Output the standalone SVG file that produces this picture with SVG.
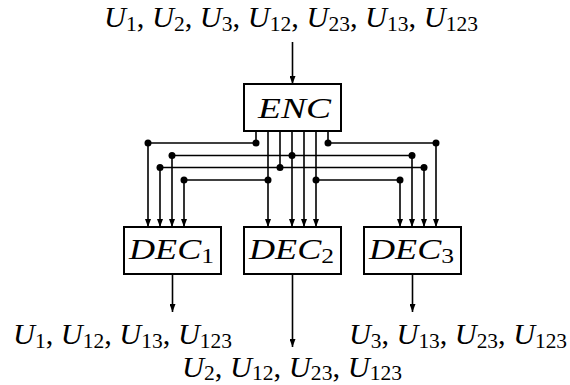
<svg xmlns="http://www.w3.org/2000/svg" width="570" height="385" viewBox="0 0 570 385">
<defs>
<style>
.box{fill:#fff;stroke:#000;stroke-width:2}
.w{fill:none;stroke:#000;stroke-width:1.6}
.a{fill:none;stroke:#000;stroke-width:1.6;marker-end:url(#arr)}
.d{fill:#000}
text{font-family:"Liberation Serif","DejaVu Serif",serif;font-size:29px;fill:#000}
.i{font-style:italic}
.s{font-size:20.5px}
</style>
<marker id="arr" viewBox="0 0 8 6" refX="8" refY="3" markerWidth="8" markerHeight="6" markerUnits="userSpaceOnUse" orient="auto">
<path d="M0,0 L8,3 L0,6 z" fill="#000"/>
</marker>
</defs>
<rect width="570" height="385" fill="#fff"/>
<g id="input">
<text x="104" y="27" textLength="374" lengthAdjust="spacingAndGlyphs"><tspan class="i">U</tspan><tspan class="s" dy="4">1</tspan><tspan dy="-4">, </tspan><tspan class="i">U</tspan><tspan class="s" dy="4">2</tspan><tspan dy="-4">, </tspan><tspan class="i">U</tspan><tspan class="s" dy="4">3</tspan><tspan dy="-4">, </tspan><tspan class="i">U</tspan><tspan class="s" dy="4">12</tspan><tspan dy="-4">, </tspan><tspan class="i">U</tspan><tspan class="s" dy="4">23</tspan><tspan dy="-4">, </tspan><tspan class="i">U</tspan><tspan class="s" dy="4">13</tspan><tspan dy="-4">, </tspan><tspan class="i">U</tspan><tspan class="s" dy="4">123</tspan></text>
</g>
<g id="enc">
<rect class="box" x="244" y="84" width="97" height="47"/>
<text class="i" x="258" y="118" textLength="73" lengthAdjust="spacingAndGlyphs">ENC</text>
</g>
<g id="dec1">
<rect class="box" x="124" y="227" width="97" height="47"/>
<text x="129" y="259" textLength="85" lengthAdjust="spacingAndGlyphs"><tspan class="i">DEC</tspan><tspan class="s" dy="4">1</tspan></text>
</g>
<g id="dec2">
<rect class="box" x="244" y="227" width="97" height="47"/>
<text x="249" y="259" textLength="85" lengthAdjust="spacingAndGlyphs"><tspan class="i">DEC</tspan><tspan class="s" dy="4">2</tspan></text>
</g>
<g id="dec3">
<rect class="box" x="364" y="227" width="97" height="47"/>
<text x="369" y="259" textLength="85" lengthAdjust="spacingAndGlyphs"><tspan class="i">DEC</tspan><tspan class="s" dy="4">3</tspan></text>
</g>
<g id="out1">
<text x="13" y="344" textLength="219" lengthAdjust="spacingAndGlyphs"><tspan class="i">U</tspan><tspan class="s" dy="4">1</tspan><tspan dy="-4">, </tspan><tspan class="i">U</tspan><tspan class="s" dy="4">12</tspan><tspan dy="-4">, </tspan><tspan class="i">U</tspan><tspan class="s" dy="4">13</tspan><tspan dy="-4">, </tspan><tspan class="i">U</tspan><tspan class="s" dy="4">123</tspan></text>
</g>
<g id="out2">
<text x="182" y="377" textLength="220" lengthAdjust="spacingAndGlyphs"><tspan class="i">U</tspan><tspan class="s" dy="3">2</tspan><tspan dy="-3">, </tspan><tspan class="i">U</tspan><tspan class="s" dy="3">12</tspan><tspan dy="-3">, </tspan><tspan class="i">U</tspan><tspan class="s" dy="3">23</tspan><tspan dy="-3">, </tspan><tspan class="i">U</tspan><tspan class="s" dy="3">123</tspan></text>
</g>
<g id="out3">
<text x="349" y="344" textLength="218" lengthAdjust="spacingAndGlyphs"><tspan class="i">U</tspan><tspan class="s" dy="4">3</tspan><tspan dy="-4">, </tspan><tspan class="i">U</tspan><tspan class="s" dy="4">13</tspan><tspan dy="-4">, </tspan><tspan class="i">U</tspan><tspan class="s" dy="4">23</tspan><tspan dy="-4">, </tspan><tspan class="i">U</tspan><tspan class="s" dy="4">123</tspan></text>
</g>
<g id="connectors">
<path class="a" d="M292.5,42 V84"/>
<path class="w" d="M256,131 V143 H148"/>
<path class="a" d="M148,143 V227"/>
<path class="w" d="M328,131 V143 H436"/>
<path class="a" d="M436,143 V227"/>
<path class="a" d="M268,131 V227"/>
<path class="w" d="M268,180 H184"/>
<path class="a" d="M184,180 V227"/>
<path class="w" d="M280,131 V167.5"/>
<path class="w" d="M160,167.5 H424"/>
<path class="a" d="M160,167.5 V227"/>
<path class="a" d="M424,167.5 V227"/>
<path class="a" d="M292,131 V227"/>
<path class="w" d="M172,155.5 H412"/>
<path class="a" d="M172,155.5 V227"/>
<path class="a" d="M412,155.5 V227"/>
<path class="a" d="M304,131 V227"/>
<path class="a" d="M316,131 V227"/>
<path class="w" d="M316,180 H400"/>
<path class="a" d="M400,180 V227"/>
<path class="a" d="M172.5,274 V312"/>
<path class="a" d="M292.5,274 V347"/>
<path class="a" d="M412.5,274 V312"/>
<circle class="d" cx="256" cy="143" r="3.5"/>
<circle class="d" cx="148" cy="143" r="3.5"/>
<circle class="d" cx="328" cy="143" r="3.5"/>
<circle class="d" cx="436" cy="143" r="3.5"/>
<circle class="d" cx="268" cy="180" r="3.5"/>
<circle class="d" cx="184" cy="180" r="3.5"/>
<circle class="d" cx="280" cy="167.5" r="3.5"/>
<circle class="d" cx="160" cy="167.5" r="3.5"/>
<circle class="d" cx="424" cy="167.5" r="3.5"/>
<circle class="d" cx="292" cy="155.5" r="3.5"/>
<circle class="d" cx="172" cy="155.5" r="3.5"/>
<circle class="d" cx="412" cy="155.5" r="3.5"/>
<circle class="d" cx="316" cy="180" r="3.5"/>
<circle class="d" cx="400" cy="180" r="3.5"/>
</g>
</svg>
